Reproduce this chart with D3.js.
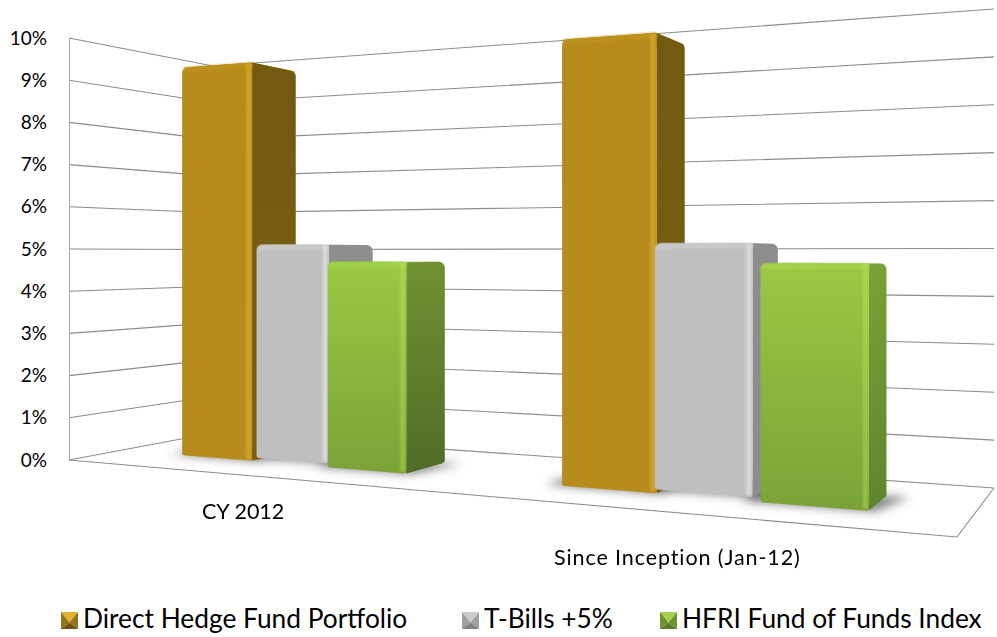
<!DOCTYPE html>
<html>
<head>
    <title>Hedge fund returns</title>
    <meta charset="UTF-8" />
    <script src="https://d3js.org/d3.v7.min.js"></script>
    <style>
        html, body { margin: 0; padding: 0; background: #fff; }
        svg { display: block; }
        text { font-family: Lato, "Open Sans", sans-serif; fill: #000; }
        .grid { fill: none; stroke: #8c8c8c; stroke-width: 1.1; }
        .axis .domain { stroke: #a6a6a6; }
        .axis text { font-family: Lato, sans-serif; font-size: 19px; }
    </style>
</head>
<body>
    <svg id="svg" width="997" height="637"></svg>

    <script>
        // chart values
        const categories = ["CY 2012", "Since Inception (Jan-12)"];
        const seriesNames = ["Direct Hedge Fund Portfolio", "T-Bills +5%", "HFRI Fund of Funds Index"];
        const directHedge = [9.4, 9.4];
        const tBills = [5.1, 5.1];
        const hfri = [4.7, 4.7];
        const tickValues = [0, 1, 2, 3, 4, 5, 6, 7, 8, 9, 10];
        const seriesValues = [directHedge, tBills, hfri];

        const svg = d3.select("svg#svg");
        const defs = svg.append("defs");

        // corners of the chart floor on screen
        const floorA = [69, 460], floorD = [957, 537], floorC = [994, 488], floorB = [213, 433];

        // unit square (u along the front, z into the depth) -> floor quad
        const dx1 = floorD[0] - floorC[0], dx2 = floorB[0] - floorC[0];
        const dy1 = floorD[1] - floorC[1], dy2 = floorB[1] - floorC[1];
        const sx = floorA[0] - floorD[0] + floorC[0] - floorB[0];
        const sy = floorA[1] - floorD[1] + floorC[1] - floorB[1];
        const den = dx1 * dy2 - dx2 * dy1;
        const g = (sx * dy2 - dx2 * sy) / den;
        const h = (dx1 * sy - sx * dy1) / den;
        const a = floorD[0] - floorA[0] + g * floorD[0];
        const b = floorB[0] - floorA[0] + h * floorB[0];
        const d = floorD[1] - floorA[1] + g * floorD[1];
        const e = floorB[1] - floorA[1] + h * floorB[1];

        // pixels per 1% depends only on how far down the screen the floor point is
        const pxPerPoint = d3.scaleLinear().domain([460, 433]).range([42.2, 36.7]);
        const leftWall = d3.scaleLinear().domain([0, 10]).range([460, 38]);

        const project = function (u, z, v) {
            const w = g * u + h * z + 1;
            const x = (a * u + b * z + floorA[0]) / w;
            const y = (d * u + e * z + floorA[1]) / w;
            return [x, y - v * pxPerPoint(y)];
        };

        // cluster band for each category, then each series' share of the cluster
        const catBand = d3.scaleBand().domain(categories).range([0.0025, 1.0025]).paddingInner(0.372).paddingOuter(0.186);
        const seriesShare = [[0, 0.33], [0.3, 0.625], [0.672, 1]];
        const seriesDepth = [[0.33, 0.66], [0.41, 0.77], [0.32, 0.65]];

        const palette = [
            { front: ["#b58c1c", "#b68d1c"], side: ["#735a11", "#7b5f12"], top: "#c0951c", ridge: "#d3a52a", ridgeOp: 0.9, bevel: "#bd921c",
              marker: ["#e3b02b", "#94731a", "#6c5410"] },
            { front: ["#bfbfbf", "#bfbfbf"], side: ["#8e8e8e", "#8e8e8e"], top: "#cbcbcb", ridge: "#dcdcdc", ridgeOp: 0.9, bevel: "#c9c9c9",
              marker: ["#cccccc", "#a0a0a0", "#828282"] },
            { front: ["#9ac943", "#7ba238"], side: ["#6f9232", "#4f6d27"], top: "#8fc03e", ridge: "#c8f060", ridgeOp: 0.35, bevel: "#a3d14b",
              marker: ["#a6d24b", "#6f9232", "#5b7c29"] }
        ];
        // the second green bar is lit a little more on its side
        const sideStopsLit = ["#7aa136", "#5f852d"];

        const addGradient = function (id, stops) {
            const grad = defs.append("linearGradient").attr("id", id).attr("x1", 0).attr("y1", 0).attr("x2", 0).attr("y2", 1);
            grad.append("stop").attr("offset", "0%").attr("stop-color", stops[0]);
            grad.append("stop").attr("offset", "100%").attr("stop-color", stops[1]);
        };
        palette.forEach((p, i) => {
            addGradient("front" + i, p.front);
            addGradient("side" + i, p.side);
        });
        addGradient("sideLit", sideStopsLit);

        defs.append("filter").attr("id", "soft").attr("x", "-30%").attr("y", "-60%").attr("width", "160%").attr("height", "220%")
            .append("feGaussianBlur").attr("stdDeviation", 5);
        defs.append("filter").attr("id", "softer").attr("x", "-30%").attr("y", "-10%").attr("width", "160%").attr("height", "120%")
            .append("feGaussianBlur").attr("stdDeviation", 0.9);

        // polygon with rounded corners, r is one radius per point
        const roundPoly = function (pts, r) {
            const path = d3.path();
            const n = pts.length;
            const mid = [(pts[n - 1][0] + pts[0][0]) / 2, (pts[n - 1][1] + pts[0][1]) / 2];
            path.moveTo(mid[0], mid[1]);
            pts.forEach((p, i) => {
                const next = pts[(i + 1) % n];
                path.arcTo(p[0], p[1], next[0], next[1], r[i]);
            });
            path.closePath();
            return path.toString();
        };

        // walls and floor
        const walls = svg.append("g");
        walls.selectAll("path.wall").data(tickValues).join("path")
            .attr("class", "grid wall")
            .attr("d", v => d3.line()([project(0, 0, v), project(0, 1, v), project(1, 1, v)]));
        walls.append("path").attr("class", "grid")
            .attr("d", d3.line()([project(0, 0, 0), project(1, 0, 0), project(1, 1, 0)]));

        // value axis along the left wall edge
        svg.append("g").attr("class", "axis")
            .attr("transform", "translate(" + floorA[0] + ",0)")
            .call(d3.axisLeft(leftWall).tickValues(tickValues).tickSize(0).tickPadding(22).tickFormat(v => v + "%"));

        const bars = [];
        seriesValues.forEach((vals, si) => {
            vals.forEach((v, ci) => {
                const share = d3.scaleLinear().domain([0, 1])
                    .range([catBand(categories[ci]), catBand(categories[ci]) + catBand.bandwidth()]);
                bars.push({ si: si, ci: ci, v: v, u0: share(seriesShare[si][0]), u1: share(seriesShare[si][1]),
                            z0: seriesDepth[si][0], z1: seriesDepth[si][1] });
            });
        });

        // blurred floor shadows first so they sit under every bar
        svg.append("g").attr("filter", "url(#soft)")
            .selectAll("path").data(bars).join("path")
            .attr("fill", "#4d4d4d").attr("opacity", 0.68)
            .attr("d", t => d3.line()([
                project(t.u0 - 0.018, t.z0 - 0.005, 0), project(t.u1 + 0.006, t.z0 - 0.005, 0),
                project(t.u1 + 0.022, t.z1, 0), project(t.u0 - 0.018, t.z1, 0)]) + "Z");

        const barGroups = svg.append("g").selectAll("g.bar").data(bars).join("g").attr("class", "bar");

        barGroups.each(function (t) {
            const sel = d3.select(this);
            const p = palette[t.si];
            const fl = project(t.u0, t.z0, 0), fr = project(t.u1, t.z0, 0), br = project(t.u1, t.z1, 0);
            const flT = project(t.u0, t.z0, t.v), frT = project(t.u1, t.z0, t.v);
            const brT = project(t.u1, t.z1, t.v), blT = project(t.u0, t.z1, t.v);
            const sideFill = (t.si === 2 && t.ci === 1) ? "url(#sideLit)" : "url(#side" + t.si + ")";

            sel.append("path").attr("fill", p.top)
                .attr("d", d3.line()([flT, blT, brT, frT]) + "Z");
            sel.append("path").attr("fill", sideFill)
                .attr("d", roundPoly([frT, brT, br, fr], [1, 6, 3, 1]));
            sel.append("path").attr("fill", "url(#front" + t.si + ")")
                .attr("d", roundPoly([flT, frT, fr, fl], [6, 2, 2, 3]));

            // lighter bevel along the top edge of the front
            const bevelH = 5;
            sel.append("path").attr("fill", p.bevel).attr("filter", "url(#softer)")
                .attr("d", roundPoly([flT, frT, [frT[0], frT[1] + bevelH], [flT[0], flT[1] + bevelH]], [6, 1, 0, 0]));

            // bright ridge just inside the near corner
            sel.append("path").attr("fill", p.ridge).attr("opacity", p.ridgeOp).attr("filter", "url(#softer)")
                .attr("d", d3.line()([[frT[0] - 6, frT[1] + 1], [frT[0] - 1, frT[1] + 1], [fr[0] - 1, fr[1] - 2], [fr[0] - 6, fr[1] - 2]]) + "Z");
        });

        // category labels
        const catLabels = [
            { x: 202, y: 519, spacing: 0 },
            { x: 554, y: 565, spacing: 0.9 }
        ];
        svg.append("g").selectAll("text").data(categories).join("text")
            .attr("x", (c, i) => catLabels[i].x)
            .attr("y", (c, i) => catLabels[i].y)
            .attr("letter-spacing", (c, i) => catLabels[i].spacing)
            .attr("font-size", 21.5)
            .text(c => c);

        // legend
        const legendX = [61, 462, 660];
        const markerSize = 17;
        const legend = svg.append("g").selectAll("g").data(seriesNames).join("g")
            .attr("transform", (s, i) => "translate(" + legendX[i] + ",612)");

        legend.each(function (s, i) {
            const sel = d3.select(this);
            const mk = palette[i].marker;
            const m = markerSize, c = [m / 2, m * 0.62];
            const faces = [
                { pts: [[0, 0], [m, 0], c], fill: mk[0] },
                { pts: [[0, 0], c, [0, m]], fill: mk[1] },
                { pts: [[m, 0], c, [m, m]], fill: mk[1] },
                { pts: [[0, m], c, [m, m]], fill: mk[2] }
            ];
            sel.selectAll("path").data(faces).join("path")
                .attr("fill", f => f.fill)
                .attr("d", f => d3.line()(f.pts) + "Z");
            sel.append("text").attr("x", m + 5).attr("y", 16).attr("font-size", 26.3).text(s);
        });
    </script>
</body>
</html>
